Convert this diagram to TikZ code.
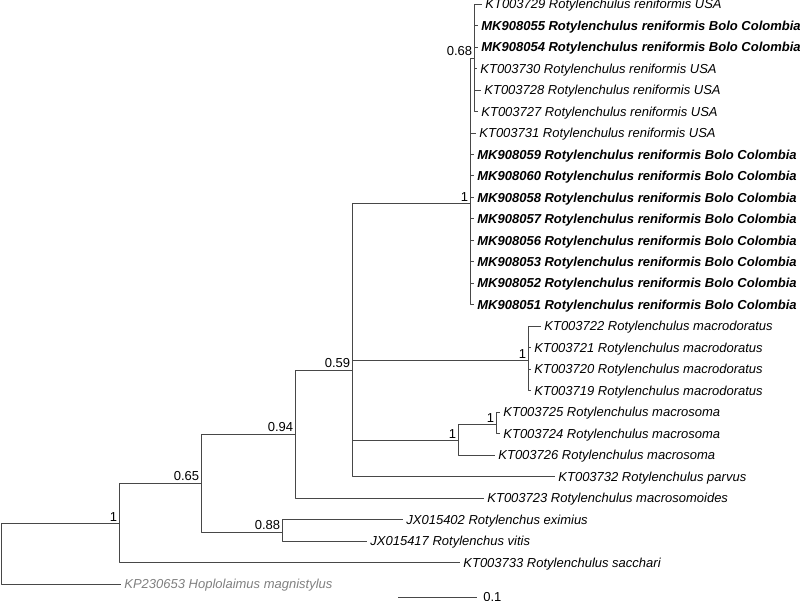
\documentclass[tikz,border=0pt]{standalone}
\usepackage{fontspec}
\setmainfont{Liberation Sans}
\begin{document}
\begin{tikzpicture}[line join=round, x=1pt, y=-1pt, line width=.8pt, color=black!72,
		la/.style={anchor=west, inner sep=3pt, text height=9.4pt, text depth=0pt, text=black, font=\fontsize{13}{15}\selectfont\itshape},
		lb/.style={la, font=\fontsize{13}{15}\selectfont\bfseries\itshape},
		lc/.style={la, text=black!50},
		so/.style={anchor=south east, inner sep=1.5pt, text=black, font=\fontsize{13}{15}\selectfont}]
	\useasboundingbox (0,0) rectangle (800,600);
	\foreach \ten/\diemx/\diemy in {g0/1/553, g1/119/523, g2/201/483, g3/282/532, g4/295/434, g5/352/370, g6/470/203, g7/474/58, g8/528/360, g9/458/440, g10/496/424}
	\coordinate (\ten) at (\diemx,\diemy);
	\foreach \a/\b in {g0/g1, g1/g2, g2/g3, g2/g4, g4/g5, g5/g6, g6/g7, g5/g8, g5/g9, g9/g10}
	\draw (\a) |- (\b);
	\foreach \ten/\cha/\diemx/\diemy/\chu in {kt29/g7/482/4/KT003729 Rotylenchulus reniformis USA, kt30/g7/477/68.4/KT003730 Rotylenchulus reniformis USA, kt28/g7/481/89.9/KT003728 Rotylenchulus reniformis USA, kt27/g7/478/111.4/KT003727 Rotylenchulus reniformis USA, kt31/g6/476/132.9/KT003731 Rotylenchulus reniformis USA, kt22/g8/541/326.2/KT003722 Rotylenchulus macrodoratus, kt21/g8/531/347.7/KT003721 Rotylenchulus macrodoratus, kt20/g8/531/369.2/KT003720 Rotylenchulus macrodoratus, kt19/g8/531/390.6/KT003719 Rotylenchulus macrodoratus, kt25/g10/500/412.1/KT003725 Rotylenchulus macrosoma, kt24/g10/500/433.6/KT003724 Rotylenchulus macrosoma, kt26/g9/495/455.1/KT003726 Rotylenchulus macrosoma, kt32/g5/555/476.6/KT003732 Rotylenchulus parvus, kt23/g4/484/498/KT003723 Rotylenchulus macrosomoides, jx02/g3/403/519.5/JX015402 Rotylenchus eximius, jx17/g3/367/541/JX015417 Rotylenchus vitis, kt33/g1/460/562.5/KT003733 Rotylenchulus sacchari}
	{\node[la] (\ten) at (\diemx,\diemy) {\chu};
		\draw (\cha) |- (\ten.west);}
	\foreach \ten/\cha/\diemx/\diemy/\chu in {mk55/g7/478/25.5/MK908055, mk54/g7/478/47/MK908054, mk59/g6/474/154.4/MK908059, mk60/g6/474/175.8/MK908060, mk58/g6/474/197.3/MK908058, mk57/g6/474/218.8/MK908057, mk56/g6/474/240.3/MK908056, mk53/g6/474/261.8/MK908053, mk52/g6/474/283.2/MK908052, mk51/g6/474/304.7/MK908051}
	{\node[lb] (\ten) at (\diemx,\diemy) {\chu{} Rotylenchulus reniformis Bolo Colombia};
		\draw (\cha) |- (\ten.west);}
	\node[lc] (kp53) at (121,584) {KP230653 Hoplolaimus magnistylus};
	\draw (g0) |- (kp53.west);
	\foreach \ten/\chu in {g1/1, g2/0.65, g3/0.88, g4/0.94, g5/0.59, g6/1, g7/0.68, g8/1, g9/1, g10/1}
	\node[so] (s\ten) at (\ten) {\chu};
	\coordinate (t1) at (398,597);
	\coordinate (t2) at (477,597);
	\draw (t1) -- (t2) node[right, inner sep=6pt, text=black, font=\fontsize{13}{15}\selectfont] (tl) {0.1};
\end{tikzpicture}
\end{document}
